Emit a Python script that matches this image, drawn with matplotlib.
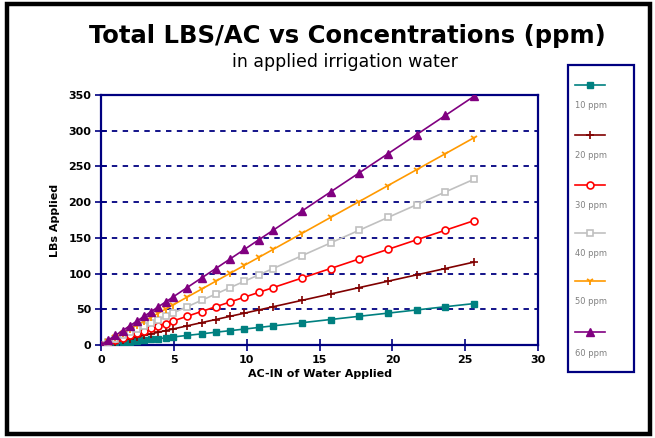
import matplotlib
matplotlib.use("Agg")
import matplotlib.pyplot as plt
from matplotlib.lines import Line2D
from matplotlib.patches import Rectangle

# ---- data ----
ac_in = [0, 0.49, 0.99, 1.48, 1.97, 2.46, 2.96, 3.45, 3.94, 4.43, 4.93, 5.91, 6.9,
         7.88, 8.87, 9.85, 10.84, 11.82, 13.79, 15.76, 17.73, 19.7, 21.67, 23.64, 25.61]
ppm10 = [0, 1.1, 2.2, 3.4, 4.5, 5.6, 6.7, 7.8, 8.9, 10.0, 11.2, 13.4, 15.6, 17.9,
         20.1, 22.3, 24.6, 26.8, 31.2, 35.7, 40.2, 44.6, 49.1, 53.6, 58.0]
ppm20 = [0, 2.2, 4.5, 6.7, 8.9, 11.1, 13.4, 15.6, 17.9, 20.1, 22.3, 26.8, 31.3, 35.7,
         40.2, 44.6, 49.1, 53.6, 62.5, 71.4, 80.4, 89.3, 98.2, 107.1, 116.1]
ppm30 = [0, 3.3, 6.7, 10.1, 13.4, 16.7, 20.1, 23.5, 26.8, 30.1, 33.5, 40.2, 46.9, 53.6,
         60.3, 67.0, 73.7, 80.4, 93.7, 107.1, 120.5, 133.9, 147.3, 160.7, 174.1]
ppm40 = [0, 4.4, 9.0, 13.4, 17.9, 22.3, 26.8, 31.3, 35.7, 40.2, 44.7, 53.6, 62.5, 71.4,
         80.4, 89.3, 98.3, 107.1, 125.0, 142.9, 160.7, 178.6, 196.4, 214.3, 232.1]
ppm50 = [0, 5.6, 11.2, 16.8, 22.3, 27.9, 33.5, 39.1, 44.6, 50.2, 55.9, 67.0, 78.2, 89.3,
         100.5, 111.6, 122.8, 133.9, 156.2, 178.6, 200.9, 223.2, 245.5, 267.8, 290.2]
ppm60 = [0, 6.7, 13.5, 20.1, 26.8, 33.4, 40.2, 46.9, 53.6, 60.2, 67.0, 80.4, 93.8, 107.1,
         120.6, 133.9, 147.4, 160.7, 187.5, 214.3, 241.1, 267.8, 294.6, 321.4, 348.2]
series_labels = ["10 ppm", "20 ppm", "30 ppm", "40 ppm", "50 ppm", "60 ppm"]
x_ticks = [0, 5, 10, 15, 20, 25, 30]
y_ticks = [0, 50, 100, 150, 200, 250, 300, 350]

series = [ppm10, ppm20, ppm30, ppm40, ppm50, ppm60]
colors = ["#008080", "#800000", "#FF0000", "#C0C0C0", "#FF9900", "#800080"]
styles = [
    dict(marker="s", ms=4.5, mfc="#008080", mec="#008080"),
    dict(marker="+", ms=5.5, mew=1.2, mfc="#800000", mec="#800000"),
    dict(marker="o", ms=5, mfc="white", mec="#FF0000", mew=1.2),
    dict(marker="s", ms=5, mfc="white", mec="#C0C0C0", mew=1.2),
    dict(marker="1", ms=6, mew=1.3, mfc="#FF9900", mec="#FF9900"),
    dict(marker="^", ms=6, mfc="#800080", mec="#800080"),
]
navy = "#000080"

W, H = 655, 438
fig = plt.figure(figsize=(W / 100, H / 100), dpi=100)
fig.patch.set_facecolor("white")

# outer black border
fig.add_artist(Rectangle((7 / W, 1 - 434 / H), 643 / W, 430 / H, transform=fig.transFigure,
                         fill=False, edgecolor="black", linewidth=3.2))

ax = fig.add_axes([101 / W, 1 - 345 / H, 437 / W, 250 / H])
for ys, c, st in zip(series, colors, styles):
    ax.plot(ac_in, ys, color=c, linewidth=1.2, zorder=3, **st)

ax.set_xlim(0, 30)
ax.set_ylim(0, 350)
ax.set_xticks(x_ticks)
ax.set_yticks(y_ticks)
for v in y_ticks[1:-1]:
    ax.axhline(v, color=navy, linestyle=(0, (3, 3)), linewidth=1.3, zorder=1)
for s in ax.spines.values():
    s.set_color(navy)
    s.set_linewidth(1.6)
ax.tick_params(direction="inout", length=8, width=1.2, color=navy, labelsize=8, pad=3)
for lab in ax.get_xticklabels() + ax.get_yticklabels():
    lab.set_fontweight("bold")
ax.set_xlabel("AC-IN of Water Applied", fontsize=8, fontweight="bold", labelpad=3)
ax.set_ylabel("LBs Applied", fontsize=8, fontweight="bold", labelpad=6)

fig.text(347 / W, 1 - 36 / H, "Total LBS/AC vs Concentrations (ppm)", ha="center", va="center",
         fontsize=17.5, fontweight="bold")
fig.text(345 / W, 1 - 62 / H, "in applied irrigation water", ha="center", va="center", fontsize=12.5)

# custom legend: handle above label
fig.add_artist(Rectangle((568 / W, 1 - 372 / H), 66 / W, 307 / H, transform=fig.transFigure,
                         fill=False, edgecolor=navy, linewidth=1.6))
line_y = [85, 135, 185, 233, 281, 332]
for i, (c, st, lab) in enumerate(zip(colors, styles, series_labels)):
    y = 1 - line_y[i] / H
    fig.add_artist(Line2D([575 / W, 605 / W], [y, y], transform=fig.transFigure,
                          color=c, linewidth=1.2))
    fig.add_artist(Line2D([590 / W], [y], transform=fig.transFigure, color=c, linestyle="none", **st))
    fig.text(575 / W, 1 - (line_y[i] + 21) / H, lab, fontsize=6, color="#808080", ha="left", va="center")

fig.savefig("out.png", dpi=100)
